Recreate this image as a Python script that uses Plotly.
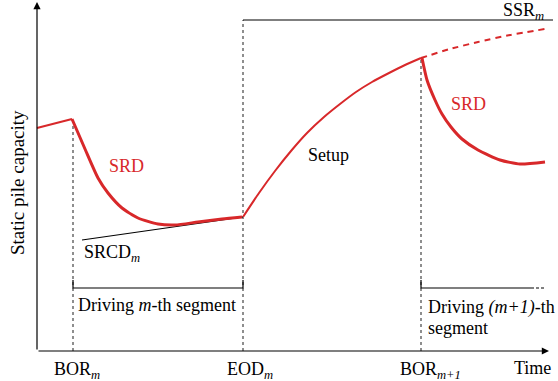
import plotly.graph_objects as go

# Conceptual capacity-vs-time sketch (arbitrary units; origin at bottom-left)
RED = "#d8282a"
FONT = "Liberation Serif, Times New Roman, Times, serif"

# Event times
t_bor_m = 36
t_eod_m = 206
t_bor_m1 = 384
t_end = 512
cap_top = 349

# Capacity before restrike
pre_t = [0, 35]
pre_cap = [223, 232]

# SRD during driving of m-th segment
srd1_t = [35, 48, 61, 71, 85, 101, 121, 138, 161, 185, 205]
srd1_cap = [232, 202, 173, 158, 143, 133, 127, 126, 129, 132, 134]

# SRCD line
srcd_t = [45, 206]
srcd_cap = [111, 134]

# Setup after end of driving
setup_t = [206, 222, 238, 254, 270, 287, 303, 319, 335, 352, 368, 384]
setup_cap = [134, 158, 180, 200, 218, 234, 247, 259, 269, 278, 286, 293]

# Continued setup (not realised)
cont_t = [384, 413, 441, 473, 508]
cont_cap = [293, 302, 309, 316, 322]

# SRD during driving of (m+1)-th segment
srd2_t = [385, 390, 398, 405, 414, 425, 441, 463, 483, 508]
srd2_cap = [293, 271, 251, 237, 224, 212, 201, 191, 187, 189]

# Steady-state resistance level
ssr_t = [206, 516]
ssr_cap = [331, 331]

# Segment brackets
bracket_y = 63
bracket_tick = 71

fig = go.Figure()

def line(x, y, color, width, dash="solid", shape="linear", smoothing=0.6):
    fig.add_trace(go.Scatter(x=x, y=y, mode="lines",
                             line=dict(color=color, width=width, dash=dash, shape=shape,
                                       smoothing=smoothing),
                             hoverinfo="skip", showlegend=False))

# dotted verticals
for t, top in [(t_bor_m, pre_cap[1]), (t_eod_m, ssr_cap[0]), (t_bor_m1, setup_cap[-1])]:
    line([t, t], [0, top], "#444444", 1.2, dash="dot")

line(pre_t, pre_cap, RED, 2)
line(srcd_t, srcd_cap, "black", 1.2)
line(srd1_t, srd1_cap, RED, 3, shape="spline")
line(setup_t, setup_cap, RED, 2, shape="spline")
line(cont_t, cont_cap, RED, 2, dash="6px,5px", shape="spline")
line(srd2_t, srd2_cap, RED, 3, shape="spline")
line(ssr_t, ssr_cap, "black", 1.2)

# brackets
line([t_bor_m, t_bor_m, t_eod_m, t_eod_m], [bracket_tick, bracket_y, bracket_y, bracket_tick], "black", 1.2)
line([t_bor_m1, t_bor_m1, 494], [bracket_tick, bracket_y, bracket_y], "black", 1.2)
line([494, 508], [bracket_y, bracket_y], "black", 1.2, dash="3px,2px")

# axes with arrowheads
fig.add_annotation(x=t_end, y=0, ax=0, ay=0, xref="x", yref="y", axref="x", ayref="y",
                   showarrow=True, arrowhead=2, arrowsize=1.2, arrowwidth=1.2, arrowcolor="black", text="")
fig.add_annotation(x=0, y=cap_top, ax=0, ay=0, xref="x", yref="y", axref="x", ayref="y",
                   showarrow=True, arrowhead=2, arrowsize=1.2, arrowwidth=1.2, arrowcolor="black", text="")

def label(x, y, text, color="black", size=18, xanchor="center", angle=0):
    fig.add_annotation(x=x, y=y, text=text, showarrow=False, xref="x", yref="y",
                       xanchor=xanchor, yanchor="middle", textangle=angle,
                       font=dict(family=FONT, size=size, color=color))

label(89, 185, "SRD", RED)
label(431, 247, "SRD", RED)
label(291, 196, "Setup")
label(45, 98, "SRCD<sub><i>m</i></sub>", xanchor="left")
label(509, 340, "SSR<sub><i>m</i></sub>", xanchor="right")
label(120, 46, "Driving <i>m</i>-th segment")
label(389, 44, "Driving <i>(m+1)</i>-th", xanchor="left")
label(389, 23, "segment", xanchor="left")
label(t_bor_m + 4, -19, "BOR<sub><i>m</i></sub>")
label(t_eod_m + 7, -19, "EOD<sub><i>m</i></sub>")
label(t_bor_m1 + 9, -19, "BOR<sub><i>m+1</i></sub>")
label(495, -17, "Time")
label(-20, 168, "Static pile capacity", size=19, angle=-90)

fig.update_layout(
    width=558, height=381,
    margin=dict(l=0, r=0, t=0, b=0),
    paper_bgcolor="white", plot_bgcolor="white",
    xaxis=dict(range=[-37, 521], visible=False, fixedrange=True),
    yaxis=dict(range=[-30, 351], visible=False, fixedrange=True),
)

fig.write_html("out.html")
